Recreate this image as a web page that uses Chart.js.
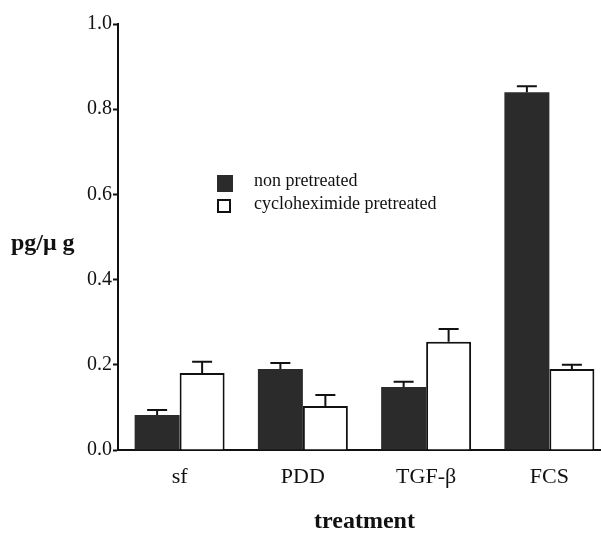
<!DOCTYPE html>
<html lang="en">
<head>
    <meta charset="UTF-8">
    <title>treatment</title>
    <style>
        body { margin: 0; overflow: hidden; background: #fff; }
        #wrap { width: 611px; height: 538px; }
    </style>
</head>
<body>
    <div id="wrap"><canvas id="myChart" width="611" height="538"></canvas></div>
    <script src="https://cdn.jsdelivr.net/npm/chart.js"></script>
    <script>
        // values
        const categories = ['sf', 'PDD', 'TGF-\u03b2', 'FCS'];
        const nonPretreated = [0.082, 0.19, 0.148, 0.84];
        const nonPretreatedErr = [0.012, 0.014, 0.012, 0.014];
        const cycloPretreated = [0.181, 0.103, 0.254, 0.19];
        const cycloPretreatedErr = [0.026, 0.026, 0.03, 0.01];
        const yTicks = [0.0, 0.2, 0.4, 0.6, 0.8, 1.0];

        const serif = 'Liberation Serif';

        // upper error bars (stem + cap)
        const errorBars = {
            id: 'errorBars',
            afterDatasetsDraw(chart) {
                const ctx = chart.ctx;
                const y = chart.scales.y;
                const errs = [nonPretreatedErr, cycloPretreatedErr];
                ctx.save();
                ctx.strokeStyle = '#111';
                ctx.lineWidth = 2;
                chart.data.datasets.forEach((ds, i) => {
                    chart.getDatasetMeta(i).data.forEach((bar, j) => {
                        const top = y.getPixelForValue(ds.data[j] + errs[i][j]);
                        ctx.beginPath();
                        ctx.moveTo(bar.x, bar.y);
                        ctx.lineTo(bar.x, top);
                        ctx.moveTo(bar.x - 10, top);
                        ctx.lineTo(bar.x + 10, top);
                        ctx.stroke();
                    });
                });
                ctx.restore();
            }
        };

        // y title (horizontal) and the legend box in the middle of the plot
        const extras = {
            id: 'extras',
            afterDraw(chart) {
                const ctx = chart.ctx;
                ctx.save();
                ctx.fillStyle = '#111';
                ctx.font = 'bold 24px ' + serif;
                ctx.textBaseline = 'middle';
                ctx.fillText('pg/\u03bc g', 11, 244);

                ctx.font = '18px ' + serif;
                ctx.fillStyle = '#2b2b2b';
                ctx.fillRect(217, 175, 16, 17);
                ctx.fillStyle = '#111';
                ctx.fillText('non pretreated', 254, 181);
                ctx.strokeStyle = '#111';
                ctx.lineWidth = 2;
                ctx.strokeRect(218, 200, 12, 12);
                ctx.fillText('cycloheximide pretreated', 254, 204);
                ctx.restore();
            }
        };

        const cfg = {
            type: 'bar',
            data: {
                labels: categories,
                datasets: [{
                    label: 'non pretreated',
                    data: nonPretreated,
                    backgroundColor: '#2b2b2b',
                    borderColor: '#2b2b2b',
                    borderWidth: 0
                }, {
                    label: 'cycloheximide pretreated',
                    data: cycloPretreated,
                    backgroundColor: '#ffffff',
                    borderColor: '#111',
                    borderWidth: 2
                }]
            },
            options: {
                responsive: false,
                animation: false,
                layout: { padding: { top: 24, right: 0, left: 0, bottom: 0 } },
                datasets: {
                    bar: { categoryPercentage: 0.73, barPercentage: 1.0 }
                },
                plugins: {
                    legend: { display: false },
                    tooltip: { enabled: false }
                },
                scales: {
                    x: {
                        grid: { display: false },
                        border: { color: '#111', width: 2 },
                        ticks: { color: '#111', font: { family: serif, size: 22 }, padding: 6 },
                        title: {
                            display: true,
                            text: 'treatment',
                            color: '#111',
                            font: { family: serif, size: 24, weight: 'bold' },
                            padding: { top: 0, bottom: 2 }
                        },
                        afterFit(scale) { scale.height = 88; }
                    },
                    y: {
                        min: 0,
                        max: 1.0,
                        afterBuildTicks(scale) {
                            scale.ticks = yTicks.map(v => ({ value: v }));
                        },
                        grid: { drawOnChartArea: false, tickLength: 5, tickColor: '#111', tickWidth: 2 },
                        border: { color: '#111', width: 2 },
                        ticks: {
                            color: '#111',
                            font: { family: serif, size: 20 },
                            padding: 1,
                            callback: v => v.toFixed(1)
                        },
                        afterFit(scale) { scale.width = 118; }
                    }
                }
            },
            plugins: [errorBars, extras]
        };

        new Chart(document.getElementById('myChart').getContext('2d'), cfg);
    </script>
</body>
</html>
